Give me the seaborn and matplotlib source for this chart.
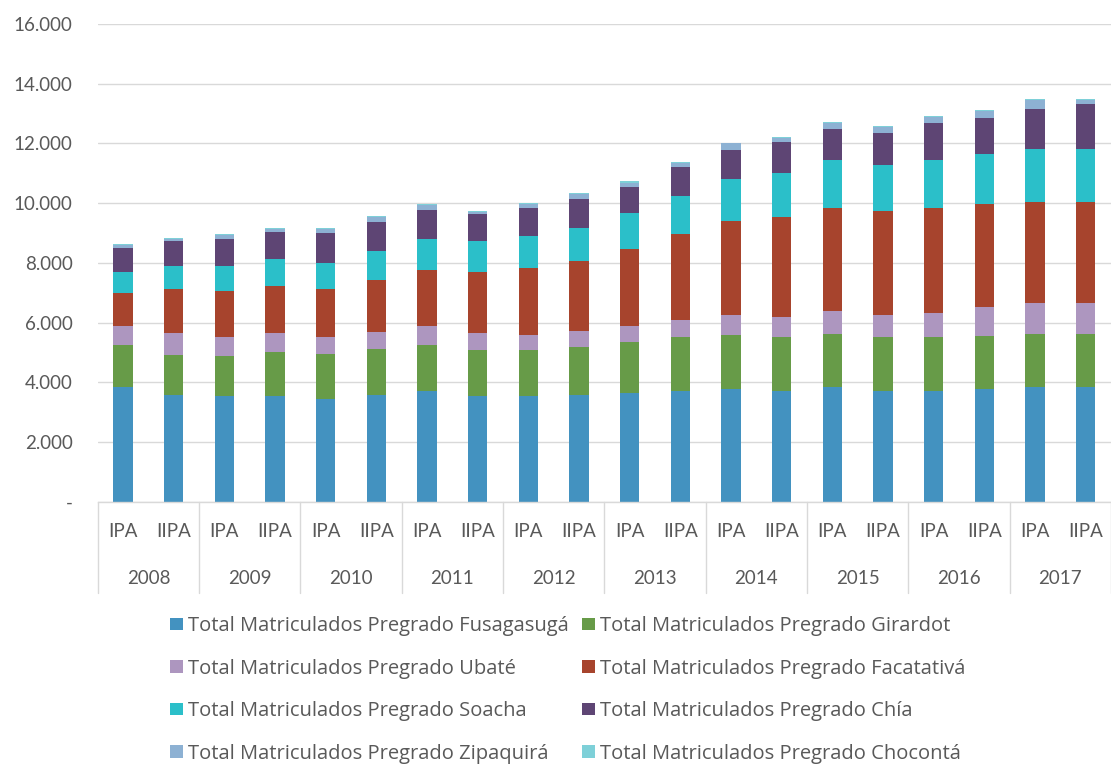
import numpy as np
import pandas as pd
import matplotlib
matplotlib.use("Agg")
import matplotlib.pyplot as plt
import seaborn as sns
from matplotlib.patches import Patch
from matplotlib.transforms import blended_transform_factory

# ---------------- data ----------------
years = ["2008", "2009", "2010", "2011", "2012", "2013", "2014", "2015", "2016", "2017"]
periods = ["IPA", "IIPA"]

fusagasuga = [3850, 3590, 3530, 3530, 3460, 3590, 3720, 3530, 3530, 3590,
              3650, 3710, 3775, 3710, 3845, 3710, 3710, 3775, 3845, 3845]
girardot = [1410, 1345, 1340, 1475, 1480, 1535, 1545, 1540, 1540, 1605,
            1720, 1800, 1800, 1800, 1785, 1800, 1800, 1790, 1785, 1785]
ubate = [640, 705, 650, 640, 585, 580, 640, 570, 505, 515,
         515, 580, 695, 695, 770, 760, 825, 960, 1015, 1015]
facatativa = [1100, 1480, 1530, 1600, 1600, 1735, 1857, 2050, 2250, 2360,
              2570, 2870, 3140, 3330, 3455, 3465, 3520, 3450, 3400, 3400]
soacha = [690, 770, 840, 895, 890, 970, 1025, 1035, 1085, 1100,
          1205, 1285, 1410, 1475, 1600, 1530, 1600, 1665, 1785, 1785]
chia = [795, 830, 900, 905, 975, 966, 977, 909, 921, 978,
        895, 960, 960, 1030, 1025, 1085, 1215, 1220, 1340, 1475]
zipaquira = [120, 87, 155, 91, 147, 148, 193, 80, 159, 159,
             135, 135, 220, 145, 200, 200, 200, 215, 270, 155]
choconta = [35, 34, 34, 34, 34, 34, 23, 34, 23, 34,
            45, 45, 22, 33, 35, 45, 35, 33, 45, 22]

labels = [
    "Total Matriculados Pregrado Fusagasugá",
    "Total Matriculados Pregrado Girardot",
    "Total Matriculados Pregrado Ubaté",
    "Total Matriculados Pregrado Facatativá",
    "Total Matriculados Pregrado Soacha",
    "Total Matriculados Pregrado Chía",
    "Total Matriculados Pregrado Zipaquirá",
    "Total Matriculados Pregrado Chocontá",
]
colors = ["#4392C0", "#679B48", "#AD96BF", "#A7442D",
          "#2BBFC9", "#5E4574", "#8DB1D3", "#7ED0D8"]
values = [fusagasuga, girardot, ubate, facatativa, soacha, chia, zipaquira, choconta]

# ---------------- figure ----------------
sns.set_theme(style="white")
plt.rcParams['font.family'] = ['Lato', 'DejaVu Sans']

fig = plt.figure(figsize=(11.11, 7.64), dpi=100)
ax = fig.add_axes([0.088, 0.343, 0.912, 0.6256])

cats = [f"{y} {p}" for y in years for p in periods]
cum = np.zeros(len(cats))
layers = []
for lab, vals, col in zip(labels, values, colors):
    cum = cum + np.asarray(vals, dtype=float)
    layers.append((lab, cum.copy(), col))

for lab, tops, col in reversed(layers):
    df = pd.DataFrame({"cat": cats, "val": tops})
    sns.barplot(data=df, x="cat", y="val", order=cats, color=col,
                saturation=1, width=0.38, linewidth=0, errorbar=None, ax=ax)

ax.set_xlim(-0.5, len(cats) - 0.5)
ax.set_ylim(0, 16000)
yt = np.arange(0, 16001, 2000)
ax.set_yticks(yt)
ax.set_yticklabels(["-" if v == 0 else f"{v:,}".replace(",", ".") for v in yt])
ax.yaxis.grid(True, color="#D9D9D9", linewidth=1)
ax.set_axisbelow(True)
ax.set_xticks([])
ax.set_xlabel("")
ax.set_ylabel("")
for s in ["left", "top", "right"]:
    ax.spines[s].set_visible(False)
ax.spines["bottom"].set_color("#D9D9D9")
ax.spines["bottom"].set_linewidth(1)
ax.tick_params(axis="y", length=0, pad=18, labelsize=13.5, labelcolor="#595959")

trans = blended_transform_factory(ax.transData, ax.transAxes)
for i, c in enumerate(cats):
    ax.text(i, -0.061, periods[i % 2], transform=trans, ha="center", va="center",
            fontsize=13.5, color="#595959")
for j, y in enumerate(years):
    ax.text(2 * j + 0.5, -0.16, y, transform=trans, ha="center", va="center",
            fontsize=13.5, color="#595959")
for k in range(len(years) + 1):
    ax.plot([2 * k - 0.5, 2 * k - 0.5], [0, -0.19], transform=trans,
            color="#D9D9D9", linewidth=1, clip_on=False)

handles = [Patch(facecolor=c, edgecolor="none") for c in colors]
order = [0, 2, 4, 6, 1, 3, 5, 7]
fig.legend([handles[i] for i in order], [labels[i] for i in order],
           loc="center", bbox_to_anchor=(0.511, 0.097), ncol=2, frameon=False,
           prop={"family": ["Open Sans", "DejaVu Sans"], "size": 14.5},
           labelcolor="#595959", handlelength=0.6, handleheight=0.6,
           handletextpad=0.25, columnspacing=0.7, labelspacing=1.12)

fig.savefig("out.png", dpi=100)
